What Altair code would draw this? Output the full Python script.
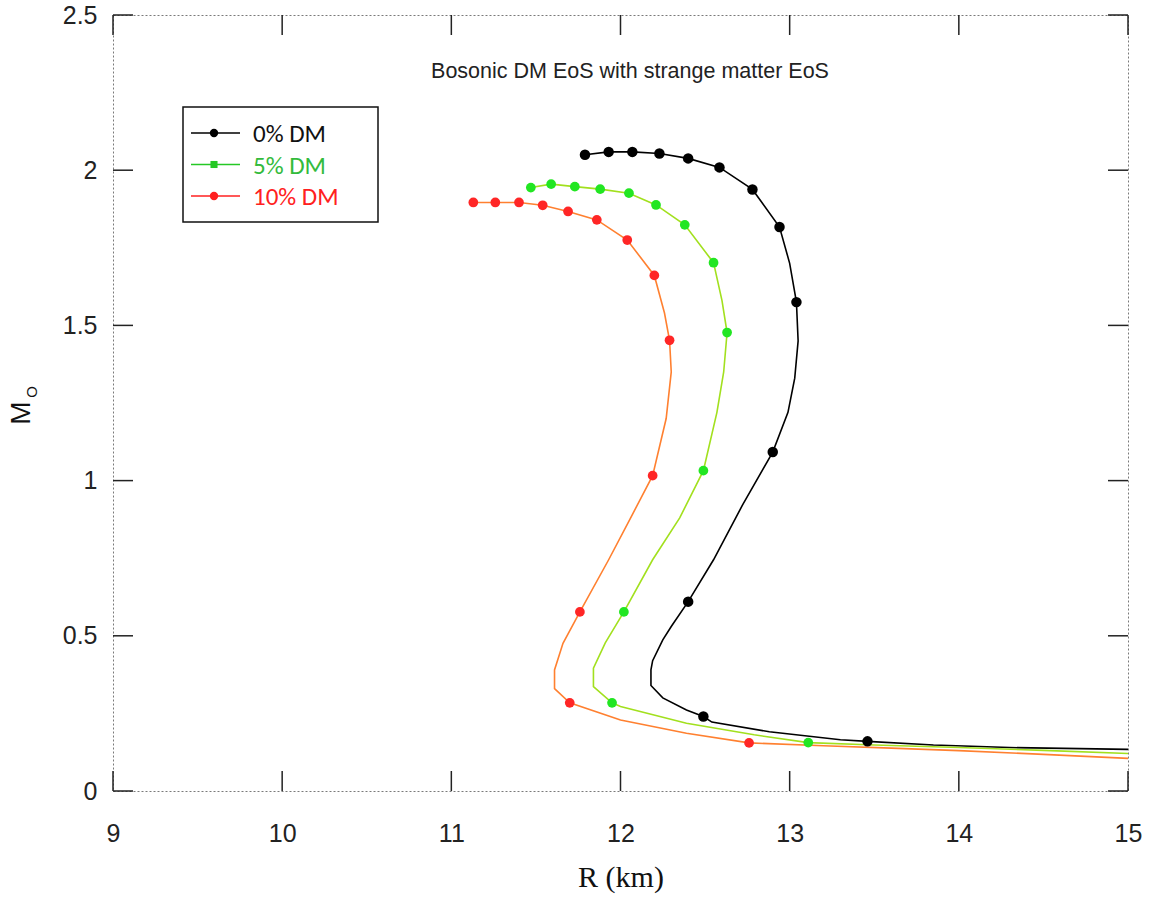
import altair as alt
import pandas as pd

# Mass-radius curves: R in km, M in solar masses
series_names = ["0% DM", "5% DM", "10% DM"]

r_dm0 = [11.79, 11.93, 12.07, 12.23, 12.40, 12.585, 12.78, 12.94, 13.00, 13.04, 13.05, 13.03,
         12.99, 12.90, 12.72, 12.55, 12.40, 12.30, 12.25, 12.19, 12.18, 12.18, 12.25, 12.39,
         12.49, 12.54, 12.88, 13.30, 13.46, 13.85, 14.30, 15.00]
m_dm0 = [2.05, 2.059, 2.059, 2.054, 2.038, 2.009, 1.938, 1.817, 1.70, 1.575, 1.45, 1.33,
         1.22, 1.092, 0.92, 0.745, 0.61, 0.53, 0.487, 0.42, 0.39, 0.34, 0.30, 0.261,
         0.24, 0.222, 0.191, 0.165, 0.16, 0.148, 0.14, 0.134]
r_dm0_pts = [11.79, 11.93, 12.07, 12.23, 12.40, 12.585, 12.78, 12.94, 13.04, 12.90, 12.40, 12.49, 13.46]
m_dm0_pts = [2.05, 2.059, 2.059, 2.054, 2.038, 2.009, 1.938, 1.817, 1.575, 1.092, 0.61, 0.24, 0.16]

r_dm5 = [11.47, 11.59, 11.73, 11.88, 12.05, 12.21, 12.38, 12.55, 12.60, 12.63, 12.61, 12.57,
         12.49, 12.35, 12.19, 12.02, 11.91, 11.84, 11.84, 11.95, 12.00, 12.39, 12.79, 13.11,
         13.50, 14.00, 14.50, 15.00]
m_dm5 = [1.944, 1.955, 1.947, 1.939, 1.926, 1.888, 1.824, 1.702, 1.58, 1.477, 1.35, 1.22,
         1.032, 0.88, 0.745, 0.577, 0.477, 0.396, 0.336, 0.284, 0.272, 0.218, 0.181, 0.156,
         0.148, 0.140, 0.131, 0.121]
r_dm5_pts = [11.47, 11.59, 11.73, 11.88, 12.05, 12.21, 12.38, 12.55, 12.63, 12.49, 12.02, 11.95, 13.11]
m_dm5_pts = [1.944, 1.955, 1.947, 1.939, 1.926, 1.888, 1.824, 1.702, 1.477, 1.032, 0.577, 0.284, 0.156]

r_dm10 = [11.13, 11.26, 11.40, 11.54, 11.69, 11.86, 12.04, 12.20, 12.26, 12.29, 12.30, 12.27,
          12.19, 12.06, 11.93, 11.76, 11.66, 11.61, 11.61, 11.70, 12.00, 12.39, 12.76, 13.20,
          13.60, 14.00, 14.50, 15.00]
m_dm10 = [1.896, 1.896, 1.896, 1.887, 1.867, 1.840, 1.775, 1.661, 1.54, 1.452, 1.35, 1.20,
          1.016, 0.88, 0.745, 0.577, 0.476, 0.39, 0.33, 0.284, 0.229, 0.186, 0.155, 0.146,
          0.138, 0.130, 0.118, 0.105]
r_dm10_pts = [11.13, 11.26, 11.40, 11.54, 11.69, 11.86, 12.04, 12.20, 12.29, 12.19, 11.76, 11.70, 12.76]
m_dm10_pts = [1.896, 1.896, 1.896, 1.887, 1.867, 1.840, 1.775, 1.661, 1.452, 1.016, 0.577, 0.284, 0.155]

x_ticks = [9, 10, 11, 12, 13, 14, 15]
y_ticks = [0, 0.5, 1, 1.5, 2, 2.5]

title_text = "Bosonic DM EoS with strange matter EoS"

W, H = 1015, 776
SANS = "Liberation Sans"

curves = {
    "0% DM": (r_dm0, m_dm0, r_dm0_pts, m_dm0_pts),
    "5% DM": (r_dm5, m_dm5, r_dm5_pts, m_dm5_pts),
    "10% DM": (r_dm10, m_dm10, r_dm10_pts, m_dm10_pts),
}
line_color = {"0% DM": "#000000", "5% DM": "#a2e01e", "10% DM": "#ff8030"}
point_color = {"0% DM": "#000000", "5% DM": "#22e622", "10% DM": "#ff2626"}
point_size = {"0% DM": 110, "5% DM": 95, "10% DM": 95}
legend_line_color = {"0% DM": "#000000", "5% DM": "#25c825", "10% DM": "#ff2020"}
legend_text_color = {"0% DM": "#111111", "5% DM": "#33bb3c", "10% DM": "#ff2020"}
legend_shape = {"0% DM": "circle", "5% DM": "square", "10% DM": "circle"}

x_scale = alt.Scale(domain=[9, 15], nice=False, zero=False)
y_scale = alt.Scale(domain=[0, 2.5], nice=False, zero=False)

x_axis = alt.Axis(values=x_ticks, ticks=False, domain=False, grid=False,
                  labelFont=SANS, labelFontSize=25, labelColor="#222222",
                  labelPadding=30, labelFlush=False,
                  title="R (km)", titleFont="Liberation Serif", titleFontSize=30,
                  titleFontWeight="normal", titleColor="#111111", titlePadding=16)
y_axis = alt.Axis(values=y_ticks, format="~g", ticks=False, domain=False, grid=False,
                  labelFont=SANS, labelFontSize=25, labelColor="#222222",
                  labelPadding=16, labelFlush=False, title="")

x_enc = alt.X("R:Q", scale=x_scale, axis=x_axis)
y_enc = alt.Y("M:Q", scale=y_scale, axis=y_axis)

layers = []

# curves
for name in series_names:
    r, m, _, _ = curves[name]
    df = pd.DataFrame({"R": r, "M": m, "idx": range(len(r))})
    layers.append(
        alt.Chart(df).mark_line(color=line_color[name], strokeWidth=1.6, clip=True)
        .encode(x=x_enc, y=y_enc, order="idx:Q")
    )

# computed points on each curve
for name in series_names:
    _, _, rp, mp = curves[name]
    df = pd.DataFrame({"R": rp, "M": mp})
    layers.append(
        alt.Chart(df).mark_point(filled=True, shape="circle", size=point_size[name],
                                 color=point_color[name], opacity=1)
        .encode(x=x_enc, y=y_enc)
    )

# inward tick marks on all four sides
tick_style = dict(color="#222222", strokeWidth=1.5)
xt = pd.DataFrame({"R": x_ticks})
yt = pd.DataFrame({"M": y_ticks})
layers.append(alt.Chart(xt).mark_rule(**tick_style).encode(x=x_enc, y=alt.value(H), y2=alt.value(H - 20)))
layers.append(alt.Chart(xt).mark_rule(**tick_style).encode(x=x_enc, y=alt.value(0), y2=alt.value(20)))
layers.append(alt.Chart(yt).mark_rule(**tick_style).encode(y=y_enc, x=alt.value(0), x2=alt.value(20)))
layers.append(alt.Chart(yt).mark_rule(**tick_style).encode(y=y_enc, x=alt.value(W - 20), x2=alt.value(W)))

# legend box
box_df = pd.DataFrame({"k": [0]})
layers.append(
    alt.Chart(box_df).mark_rect(fill="white", stroke="#111111", strokeWidth=1.5)
    .encode(x=alt.value(70), x2=alt.value(265), y=alt.value(92), y2=alt.value(207))
)
for i, name in enumerate(series_names):
    row_y = 118 + i * 31.5
    row_df = pd.DataFrame({"label": [name]})
    layers.append(
        alt.Chart(row_df).mark_rule(color=legend_line_color[name], strokeWidth=1.5)
        .encode(x=alt.value(78), x2=alt.value(127), y=alt.value(row_y))
    )
    layers.append(
        alt.Chart(row_df).mark_point(filled=True, shape=legend_shape[name],
                                     size=70 if legend_shape[name] == "circle" else 50,
                                     color=legend_line_color[name], opacity=1)
        .encode(x=alt.value(101), y=alt.value(row_y))
    )
    layers.append(
        alt.Chart(row_df).mark_text(align="left", baseline="middle", font="Carlito",
                                    fontSize=25, color=legend_text_color[name])
        .encode(text="label:N", x=alt.value(140), y=alt.value(row_y + 1))
    )

# chart title inside the plot
layers.append(
    alt.Chart(pd.DataFrame({"t": [title_text]})).mark_text(
        align="center", baseline="middle", font=SANS, fontSize=21.5, color="#222222")
    .encode(text="t:N", x=alt.value(517), y=alt.value(57))
)

# y-axis title: M with subscript O
layers.append(
    alt.Chart(pd.DataFrame({"t": ["M"]})).mark_text(
        align="center", baseline="middle", font=SANS, fontSize=28, angle=270, color="#111111")
    .encode(text="t:N", x=alt.value(-91), y=alt.value(398))
)
layers.append(
    alt.Chart(pd.DataFrame({"t": ["O"]})).mark_text(
        align="center", baseline="middle", font=SANS, fontSize=15, angle=270, color="#111111")
    .encode(text="t:N", x=alt.value(-81), y=alt.value(377))
)

chart = (
    alt.layer(*layers)
    .properties(width=W, height=H,
                autosize=alt.AutoSizeParams(type="none"),
                padding={"left": 113, "top": 15, "right": 22, "bottom": 106},
                background="white")
    .configure_view(stroke="#7a7a7a", strokeDash=[2, 2], strokeWidth=1)
)

chart.save("out.html", embed_options={"renderer": "svg", "actions": False})
